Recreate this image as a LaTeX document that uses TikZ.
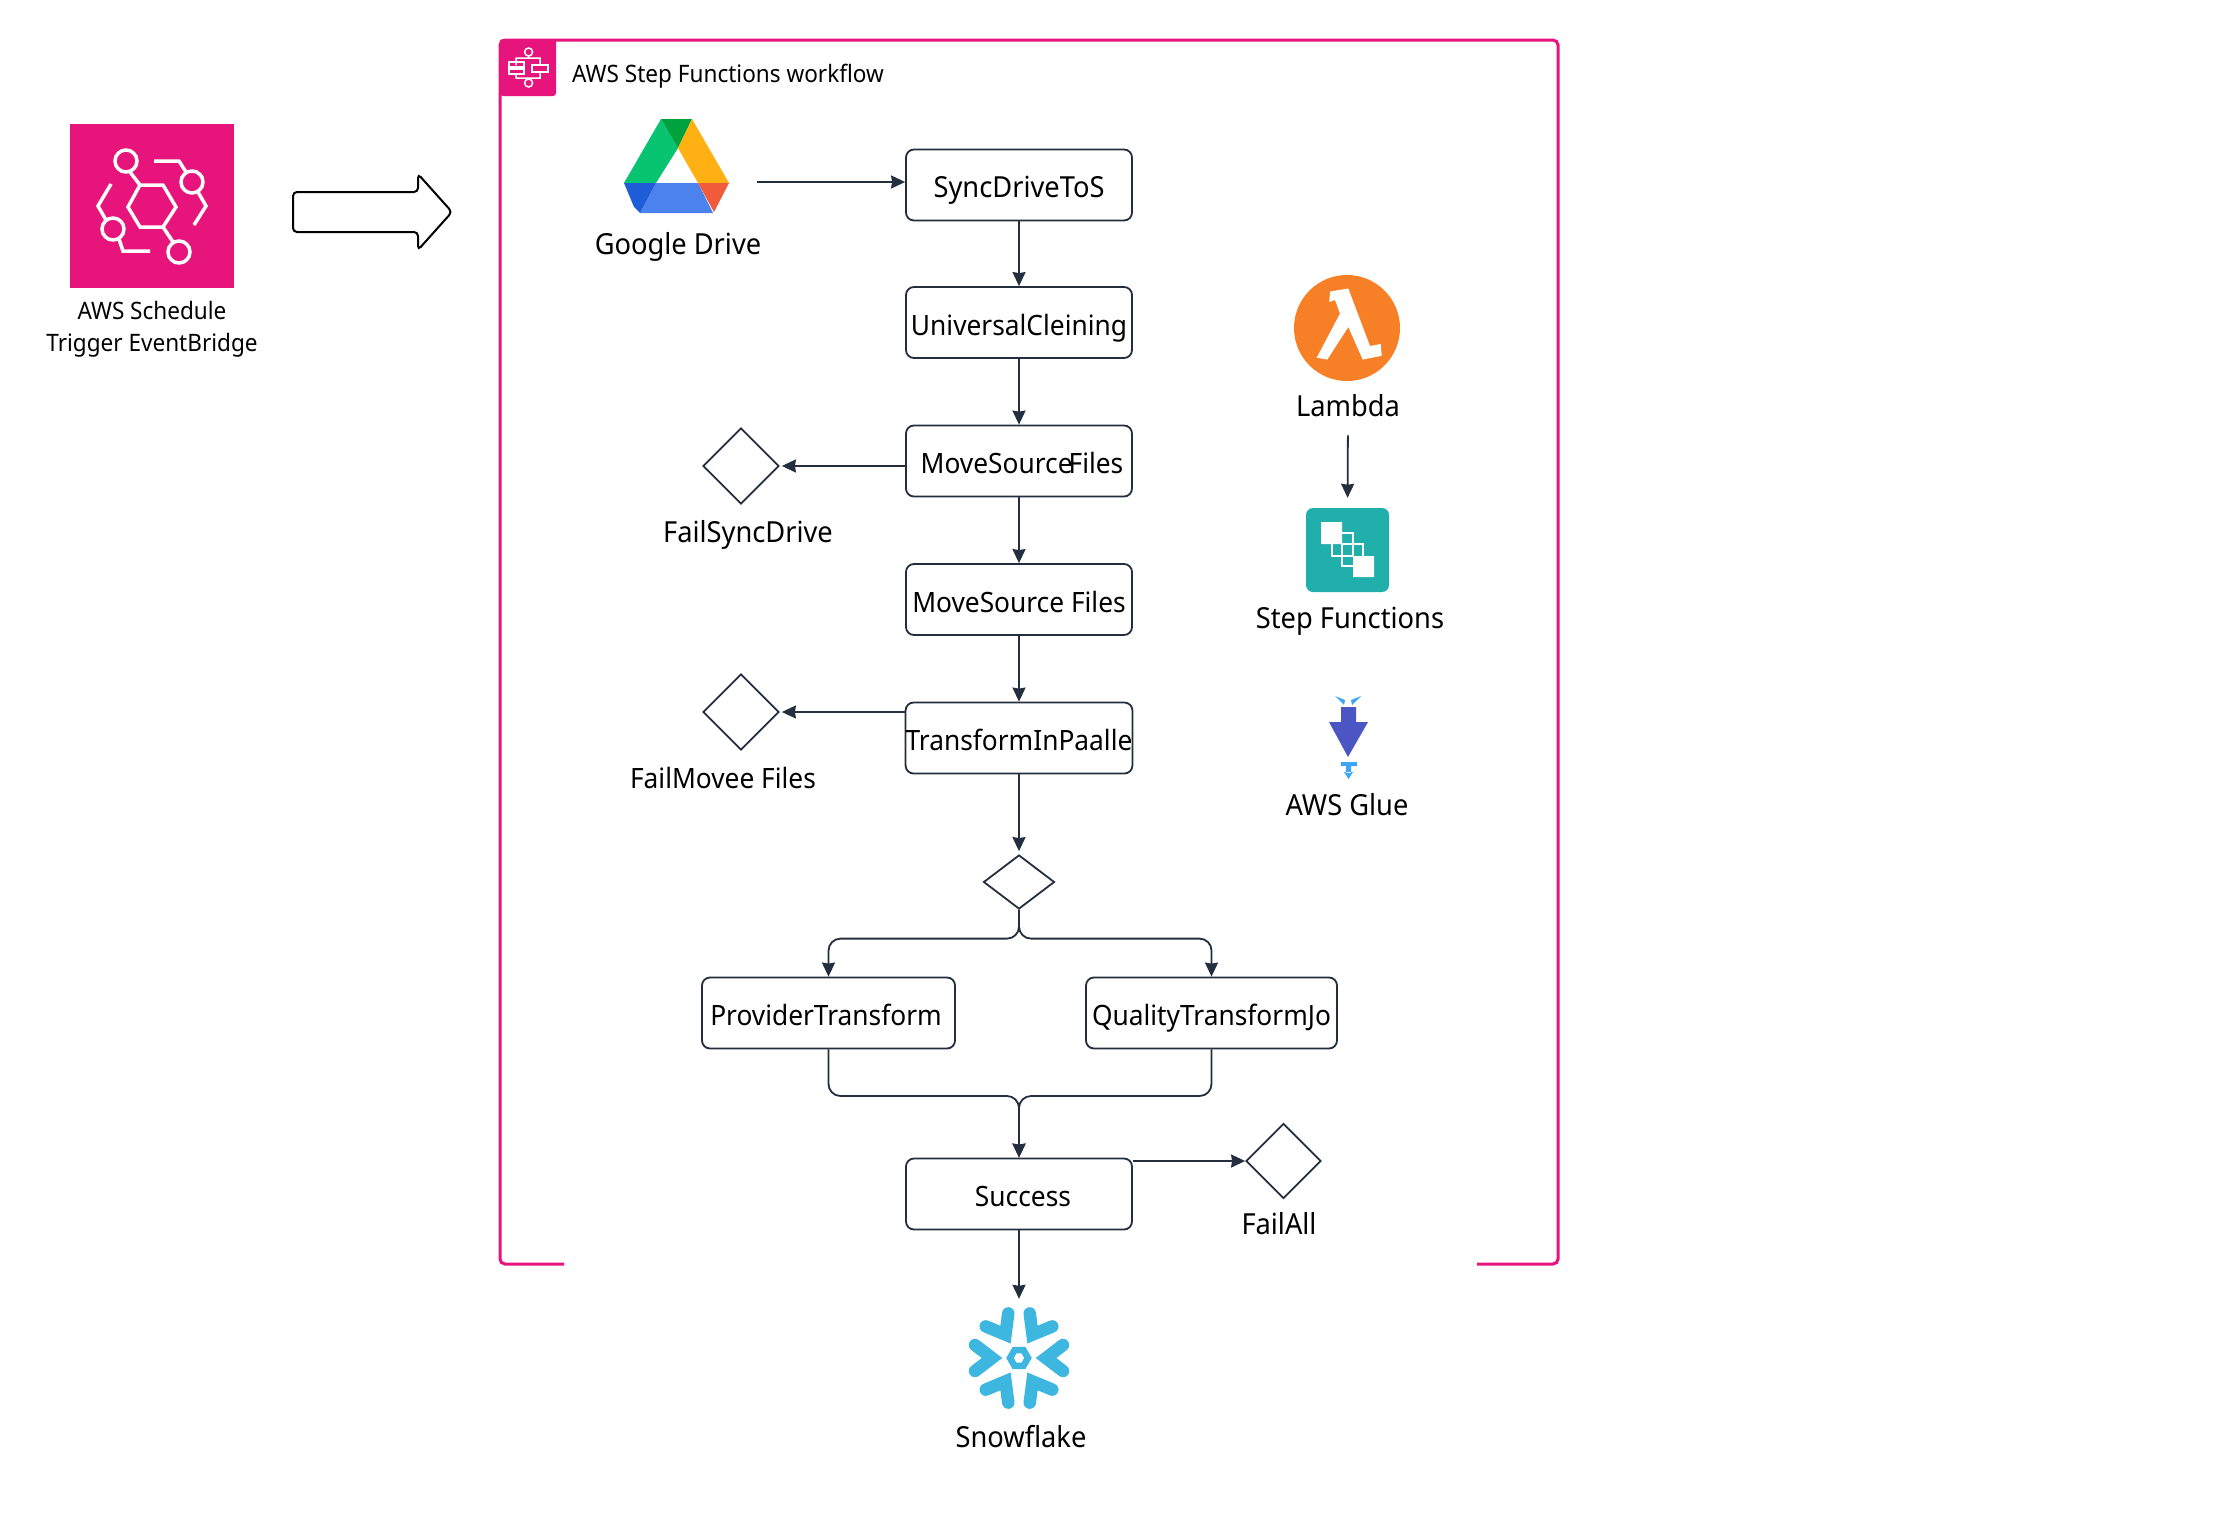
\documentclass[tikz,border=0pt]{standalone}
\usepackage{fontspec}
\setmainfont[FakeStretch=0.94]{Noto Sans}
\usetikzlibrary{shapes.geometric,arrows.meta}
\definecolor{Pink}{HTML}{E7157B}
\definecolor{Ink}{HTML}{232F3E}
\definecolor{Teal}{HTML}{20AFAB}
\definecolor{Orange}{HTML}{F77F26}
\definecolor{Snow}{HTML}{3DB7E0}
\definecolor{GlueDark}{HTML}{4B55C4}
\definecolor{GlueLight}{HTML}{3EA7F5}
\definecolor{DriveGreen}{HTML}{08C36F}
\definecolor{DriveDeep}{HTML}{00A23E}
\definecolor{DriveYellow}{HTML}{FFB114}
\definecolor{DriveBlue}{HTML}{4B82EE}
\definecolor{DriveNavy}{HTML}{1F5DD8}
\definecolor{DriveRed}{HTML}{F15B3A}
\tikzset{
    stepbox/.style={draw=Ink,line width=1.8pt,rounded corners=8pt,minimum width=226pt,minimum height=71pt,inner sep=0pt,text height=25pt,text depth=0pt,font=\fontsize{28}{34}\selectfont},
    gate/.style={draw=Ink,line width=1.8pt,shape=diamond,inner sep=0pt,minimum width=76pt,minimum height=76pt},
    link/.style={->,line width=1.8pt,Ink},
    caption/.style={inner sep=0pt,font=\fontsize{29}{34}\selectfont,text=black},
    smallcaption/.style={inner sep=0pt,font=\fontsize{24}{28}\selectfont,text=black},
    whiteline/.style={draw=white,line width=3.5pt}
}
\begin{document}
\begin{tikzpicture}[x=1pt,y=-1pt,node distance=138.5pt,>={Stealth[length=14pt,width=13pt,inset=1pt]}]
    \useasboundingbox (0,0) rectangle (2238,1518);
    \fill[white] (0,0) rectangle (2238,1518);

    \draw[Pink,line width=3pt,rounded corners=5pt] (564,1264) -- (500,1264) -- (500,40) -- (1558,40) -- (1558,1264) -- (1477,1264);
    \fill[Pink,rounded corners=3pt] (556,39) -- (500,39) -- (500,96) -- (556,96) [sharp corners] -- cycle;
    \node[smallcaption,anchor=west] (workflow) at (572,76) {AWS Step Functions workflow};
    \draw[white,line width=1.5pt] (528.6,52) circle (4) (528.6,83) circle (4) (528.6,56) -- (528.6,58) (516,65) -- (516,58) -- (540,58) -- (540,65) (516,74) -- (516,78) -- (540,78) -- (540,72) (528.6,78) -- (528.6,79);
    \draw[white,line width=1.5pt] (509,62) rectangle (524,67) (509,69) rectangle (524,74) (532,65) rectangle (548,72);

    \fill[Pink] (70,124) rectangle (234,288);
    \draw[whiteline] (140,185) -- (163,185) -- (176,207) -- (163,227) -- (140,227) -- (128,207) -- cycle;
    \draw[whiteline] (126,161) circle (11) (192,182) circle (11) (113,229) circle (11) (179,252) circle (11);
    \draw[whiteline] (130,172) -- (140,185) (163,227) -- (173,242);
    \draw[whiteline] (154,161) -- (179,161) -- (186,172) (198,192) -- (206,206) -- (194,225);
    \draw[whiteline] (111,184) -- (98,206) -- (106,220) (119,239) -- (123,251) -- (150,251);
    \node[smallcaption] (schedule) at (152,310) {AWS Schedule};
    \node[smallcaption] (trigger) at (152,345) {Trigger EventBridge};

    \draw[black,line width=2pt,rounded corners=4pt] (293,192) -- (418,192) -- (418,174) -- (452,212) -- (418,250) -- (418,232) -- (293,232) -- cycle;

    \fill[DriveGreen] (661,119) -- (678,148) -- (656,183) -- (624,183) -- cycle;
    \fill[DriveDeep] (661,119) -- (692,119) -- (678,148) -- cycle;
    \fill[DriveYellow] (692,119) -- (729,183) -- (698,183) -- (678,148) -- cycle;
    \fill[DriveBlue] (656,183) -- (698,183) -- (713,213) -- (640,213) -- cycle;
    \fill[DriveNavy] (624,183) -- (656,183) -- (640,213) -- (634,207) -- cycle;
    \fill[DriveRed] (698,183) -- (729,183) -- (714,212) -- cycle;
    \coordinate (driveout) at (757,182);
    \node[caption] (drive) at (678,247) {Google Drive};

    \node[stepbox,font=\fontsize{29}{34}\selectfont] (sync) at (1019,185) {SyncDriveToS};
    \node[stepbox,below of=sync,yshift=1pt] (cleaning) {UniversalCleining};
    \node[stepbox,below of=cleaning] (movefirst) {\hspace*{6pt}MoveSource\kern-4pt Files};
    \node[stepbox,below of=movefirst] (movesecond) {MoveSource Files};
    \node[stepbox,below of=movesecond] (parallel) {TransformInPaalle};
    \node[gate,minimum width=71pt,minimum height=54pt] (split) at (1019,882) {};
    \node[stepbox,minimum width=253pt] (provider) at (828.5,1013) {ProviderTransform\hspace*{5pt}};
    \node[stepbox,minimum width=251pt] (quality) at (1211.5,1013) {QualityTransformJo};
    \node[stepbox] (success) at (1019,1194) {\hspace*{8pt}Success};

    \node[gate] (failsync) at (741,466) {};
    \node[caption] (failsynctext) at (748,535) {FailSyncDrive};
    \node[gate] (failmove) at (741,712) {};
    \node[caption,font=\fontsize{28}{34}\selectfont] (failmovetext) at (723,778) {FailMovee Files};
    \node[gate,minimum width=75pt,minimum height=75pt] (failall) at (1283.5,1161) {};
    \node[caption] (failalltext) at (1279,1224) {FailAll};

    \draw[link] (driveout) -- (sync.west |- driveout);
    \draw[link] (sync) -- (cleaning);
    \draw[link] (cleaning) -- (movefirst);
    \draw[link] (movefirst) -- (movesecond);
    \draw[link] (movesecond) -- (parallel);
    \draw[link,shorten >=3pt] (parallel) -- (split);
    \draw[link,shorten >=2pt] (movefirst.west |- failsync) -- (failsync);
    \draw[link,shorten >=2pt] (parallel.west |- failmove) -- (failmove);
    \draw[link,rounded corners=12pt] (split.south) |- ([yshift=38pt]provider.north) -- (provider.north);
    \draw[link,rounded corners=12pt] (split.south) |- ([yshift=38pt]quality.north) -- (quality.north);
    \coordinate (merge) at (1019,1096);
    \draw[link,rounded corners=12pt] (provider.south) |- (merge) -- (success.north);
    \draw[link,rounded corners=12pt] (quality.south) |- (merge) -- (success.north);
    \draw[link] (success.east |- failall) -- (failall);

    \node[minimum size=118pt,inner sep=0pt] (snowflake) at (1019,1358) {};
    \foreach \ang in {0,60,...,300}
        \draw[Snow,line width=12.5pt,line cap=round,rotate around={\ang:(snowflake.center)}] (1063,1345) -- (1046,1358) -- (1063,1371);
    \node[draw=Snow,fill=white,line width=6.5pt,shape=regular polygon,regular polygon sides=6,minimum size=18pt,inner sep=0pt] (snowhub) at (snowflake.center) {};
    \node[caption] (snowtext) at (1021,1437) {Snowflake};
    \draw[link] (success) -- (snowflake);

    \node[circle,fill=Orange,minimum size=106pt,inner sep=0pt] (lambda) at (1347,328) {};
    \fill[white] (1330,291.5) -- (1348.3,288.5) -- (1370,346) -- (1380.7,344) -- (1381.7,355.8) -- (1362.7,359.6) -- (1348.3,327) -- (1327.3,359.6) -- (1316.7,357.7) -- (1340,313.5) -- (1335,300) -- (1329.3,302) -- cycle;
    \node[caption] (lambdatext) at (1348,406) {Lambda};

    \node[fill=Teal,rounded corners=7pt,minimum width=83pt,minimum height=84pt,inner sep=0pt] (stepfn) at (1347.5,550) {};
    \fill[white] (1321,522) rectangle (1342,544) (1353,556) rectangle (1374,577);
    \draw[white,line width=2pt] (1332,533) rectangle (1353,556) (1342,544) rectangle (1363,566);
    \node[caption] (stepfntext) at (1350,621) {Step Functions};
    \draw[link,shorten <=18pt,shorten >=10pt] (lambdatext.south) -- (stepfn.north);

    \fill[GlueLight] (1335,696) -- (1345,700) -- (1344,705) -- cycle (1361,696) -- (1351,700) -- (1352,705) -- cycle;
    \fill[GlueDark] (1341,707) -- (1356,707) -- (1356,722) -- (1368,722) -- (1348,757) -- (1329,722) -- (1341,722) -- cycle;
    \fill[GlueLight] (1341,762) rectangle (1357,766) (1346,766) rectangle (1351,773) (1344,772) -- (1353,772) -- (1348.5,779) -- cycle;
    \node[caption] (gluetext) at (1347,805) {AWS Glue};
\end{tikzpicture}
\end{document}
